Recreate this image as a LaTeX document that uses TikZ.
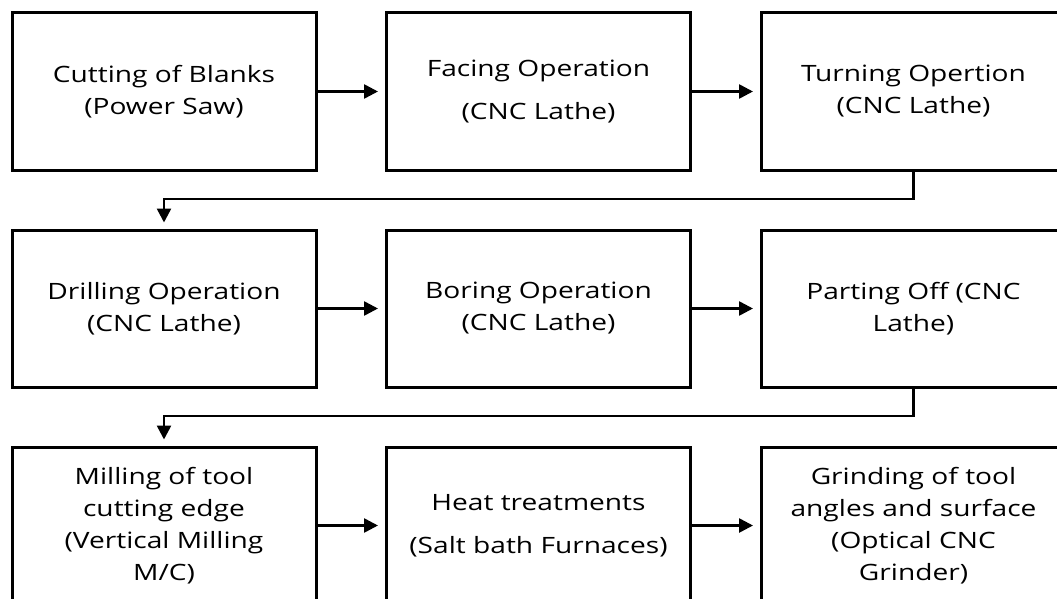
\documentclass[tikz,border=0pt]{standalone}
\usepackage{fontspec}
\setmainfont[FakeStretch=1.25]{Open Sans}
\usetikzlibrary{arrows.meta}

\begin{document}
\begin{tikzpicture}[x=1pt,y=-1pt,
  stage/.style={draw=black, line width=3pt, rectangle, fill=white,
    minimum width=304pt, minimum height=157pt, inner sep=0pt,
    align=center, font=\fontsize{22.5}{32}\selectfont},
  flow/.style={draw=black, line width=2.6pt,
    -{Triangle[length=14pt,width=14pt]}, shorten >=7pt}
]
\useasboundingbox (0,0) rectangle (1057,599);
\clip (0,0) rectangle (1057,599);
\fill[white] (0,0) rectangle (1057,599);

% first row
\node[stage] (b1) at (164,91.5)   {Cutting of Blanks\\(Power Saw)};
\node[stage] (b2) at (538.5,91.5) {Facing Operation\\[11pt](CNC Lathe)};
\node[stage] (b3) at (913.5,91.5) {Turning Opertion\\(CNC Lathe)};

% second row
\node[stage] (b4) at (164,308.5)   {Drilling Operation\\(CNC Lathe)};
\node[stage] (b5) at (538.5,308.5) {Boring Operation\\(CNC Lathe)};
\node[stage] (b6) at (913.5,308.5) {Parting Off (CNC\\Lathe)};

% third row
\node[stage] (b7) at (164,525.5)   {Milling of tool\\cutting edge\\(Vertical Milling\\M/C)};
\node[stage] (b8) at (538.5,525.5) {Heat treatments\\[11pt](Salt bath Furnaces)};
\node[stage] (b9) at (913.5,525.5) {Grinding of tool\\angles and surface\\(Optical CNC\\Grinder)};

% bends between rows
\coordinate (k1) at (913.5,199);
\coordinate (k2) at (913.5,416);

\draw[flow] (b1.east) -- (b2.west);
\draw[flow] (b2.east) -- (b3.west);
\draw[flow, shorten >=6pt] (b3.south) -- (k1) -| (b4.north);
\draw[flow] (b4.east) -- (b5.west);
\draw[flow] (b5.east) -- (b6.west);
\draw[flow, shorten >=6pt] (b6.south) -- (k2) -| (b7.north);
\draw[flow] (b7.east) -- (b8.west);
\draw[flow] (b8.east) -- (b9.west);
\end{tikzpicture}
\end{document}
